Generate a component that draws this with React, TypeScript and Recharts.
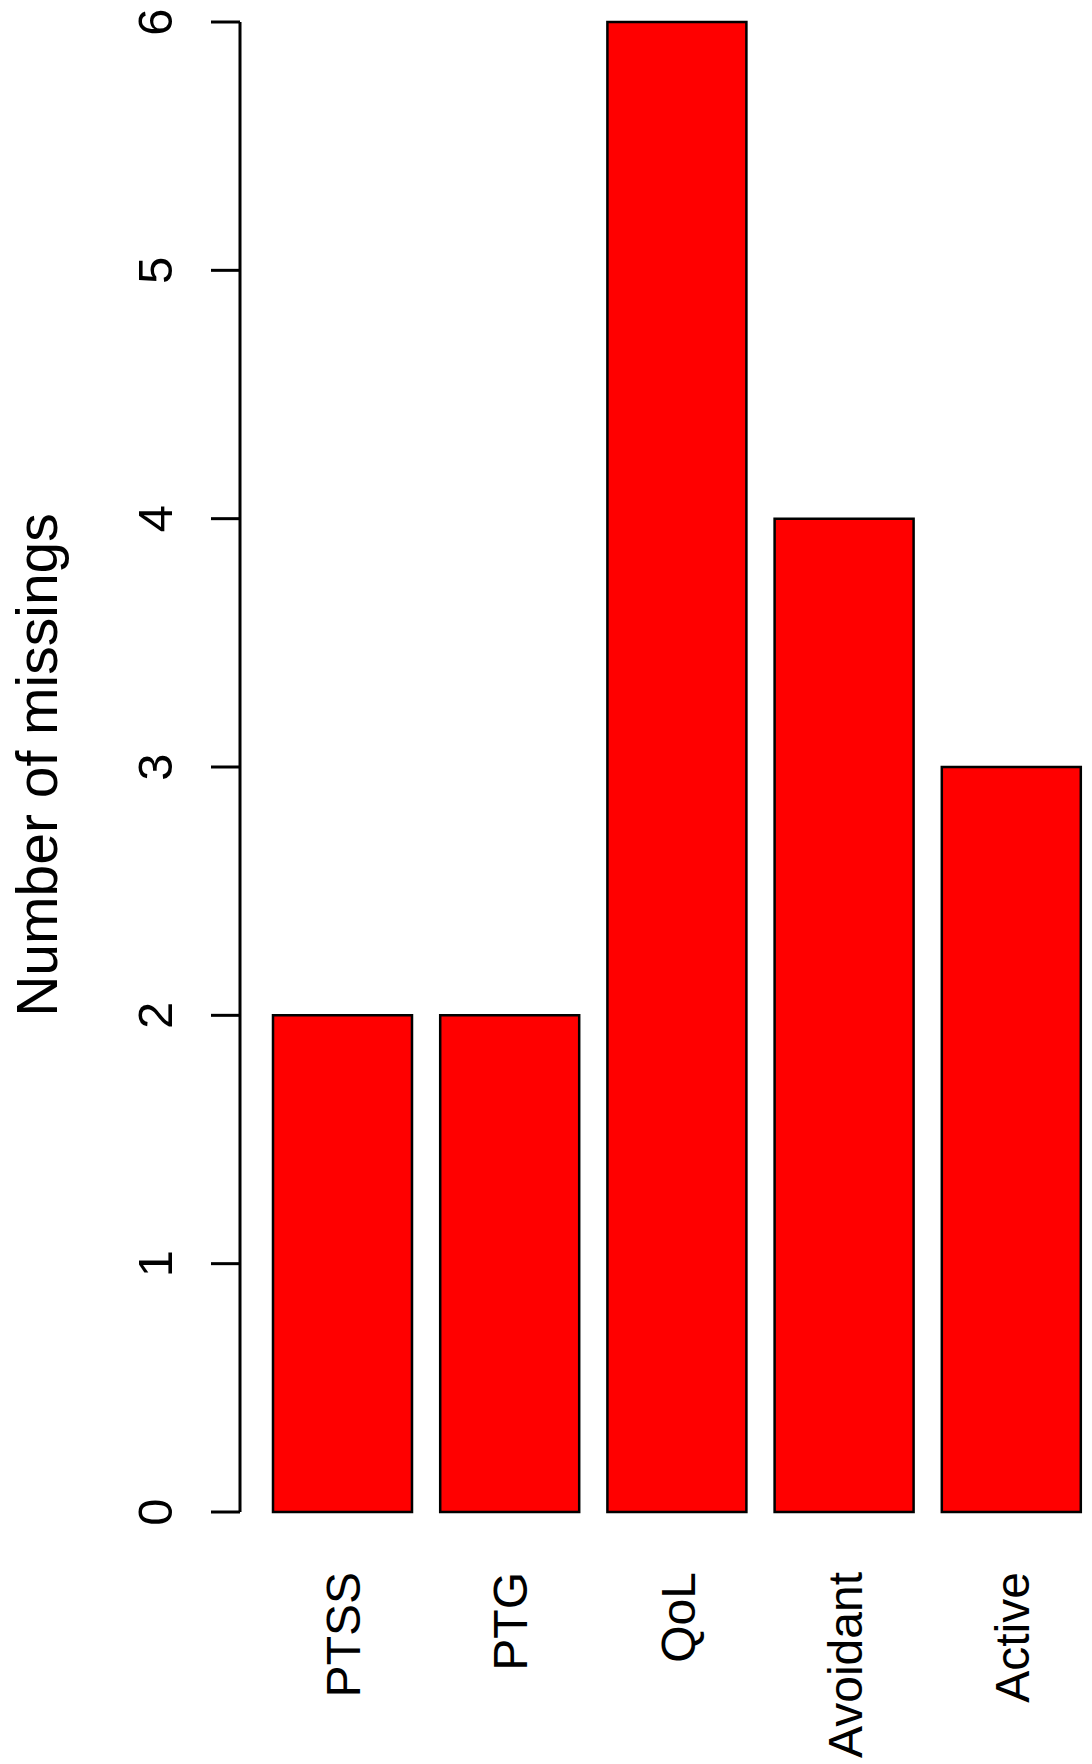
import React from "react";
import { BarChart, Bar, XAxis, YAxis, Label } from "recharts";

const categories = ["PTSS", "PTG", "QoL", "Avoidant", "Active"];
const missings = [2, 2, 6, 4, 3];
const yTicks = [0, 1, 2, 3, 4, 5, 6];
const yTitle = "Number of missings";

const data = categories.map((name, i) => ({ name, value: missings[i] }));

const FONT = "'Liberation Sans', Arial, Helvetica, sans-serif";

const XTick = (props: any) => {
  const { x, payload } = props;
  const bx = x + 17.5;
  const by = 1572;
  return (
    <text
      x={bx}
      y={by}
      transform={`rotate(-90, ${bx}, ${by})`}
      textAnchor="end"
      fontFamily={FONT}
      fontSize={48}
      fill="#000"
    >
      {payload.value}
    </text>
  );
};

const YTick = (props: any) => {
  const { y, payload } = props;
  const bx = 172;
  return (
    <text
      x={bx}
      y={y}
      transform={`rotate(-90, ${bx}, ${y})`}
      textAnchor="middle"
      fontFamily={FONT}
      fontSize={49}
      fill="#000"
    >
      {payload.value}
    </text>
  );
};

const YTitle = (props: any) => {
  const vb = props.viewBox || {};
  const cy = (vb.y ?? 22) + (vb.height ?? 1490) / 2 - 2;
  const bx = 57;
  return (
    <text
      x={bx}
      y={cy}
      transform={`rotate(-90, ${bx}, ${cy})`}
      textAnchor="middle"
      fontFamily={FONT}
      fontSize={57}
      fill="#000"
    >
      {yTitle}
    </text>
  );
};

export default function App() {
  return (
    <div
      style={{
        position: "absolute",
        left: 0,
        top: 0,
        width: 1092,
        height: 1764,
        overflow: "hidden",
        background: "#fff",
      }}
    >
      <BarChart
        width={1100}
        height={1764}
        data={data}
        margin={{ top: 22, right: 5, bottom: 0, left: 0 }}
        barSize={139}
      >
        <XAxis
          dataKey="name"
          height={252}
          axisLine={false}
          tickLine={false}
          padding={{ left: 19, right: 0 }}
          tick={<XTick />}
          interval={0}
        />
        <YAxis
          width={240}
          domain={[0, 6]}
          ticks={yTicks}
          type="number"
          allowDecimals={false}
          axisLine={{ stroke: "#000", strokeWidth: 3 }}
          tickLine={{ stroke: "#000", strokeWidth: 3 }}
          tickSize={29}
          tick={<YTick />}
        >
          <Label content={<YTitle />} />
        </YAxis>
        <Bar
          dataKey="value"
          fill="#FF0000"
          stroke="#000"
          strokeWidth={2.5}
          isAnimationActive={false}
        />
      </BarChart>
    </div>
  );
}
